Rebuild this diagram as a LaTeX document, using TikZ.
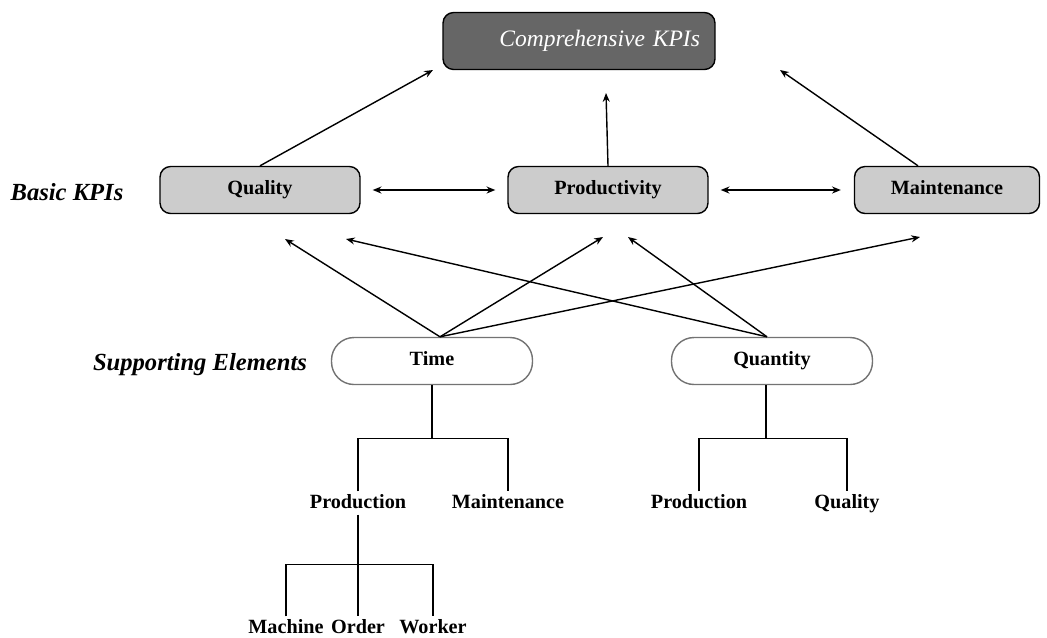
\documentclass[tikz,border=0pt]{standalone}
\usepackage{fontspec}
\setmainfont{Liberation Serif}
\usetikzlibrary{arrows.meta,calc}

\definecolor{kpigray}{HTML}{CCCCCC}
\definecolor{compgray}{HTML}{666666}

\tikzset{
  arr/.style={-{Stealth[length=5pt,width=4pt]}, line width=0.8pt},
  dblarr/.style={{Stealth[length=5pt,width=4pt]}-{Stealth[length=5pt,width=4pt]}, line width=0.8pt},
  kpibox/.style={draw, line width=0.8pt, fill=kpigray, rounded corners=6pt,
    minimum width=4cm, minimum height=0.94cm, text height=1.6ex, text depth=0.4ex,
    font=\fontsize{11.5}{13}\selectfont\bfseries},
  compbox/.style={draw, line width=0.8pt, fill=compgray, text=white, rounded corners=6pt,
    text width=4.84cm, align=right, inner xsep=0.3cm,
    minimum height=1.14cm, font=\fontsize{13.4}{15}\selectfont\itshape},
  pill/.style={draw=black!55, line width=0.8pt, rounded corners=0.45cm,
    minimum width=4.02cm, minimum height=0.94cm, text height=1.6ex, text depth=0.4ex,
    font=\fontsize{11.5}{13}\selectfont\bfseries},
  leaf/.style={inner sep=2pt, text height=1.6ex, text depth=0.3ex,
    font=\fontsize{11.5}{13}\selectfont\bfseries},
  lvl/.style={font=\fontsize{14}{16}\selectfont\bfseries\itshape},
  tree/.style={line width=0.8pt}
}

\begin{document}
\begin{tikzpicture}[x=0.02cm,y=-0.02cm]
\useasboundingbox (0,0) rectangle (1047,637);

%top level
\node[compbox] (comp) at (579,41) {Comprehensive KPIs};

%basic KPIs
\node[lvl] (basiclab) at (67,192) {Basic KPIs};
\node[kpibox] (qual) at (260,190) {Quality};
\node[kpibox] (prod) at (608,190) {Productivity};
\node[kpibox, minimum width=3.7cm] (maint) at (947,190) {Maintenance};

\coordinate (cq) at (433,70);
\coordinate (cp) at (606,93);
\coordinate (cm) at (780,70);

\draw[arr] (qual.north) -- (cq);
\draw[arr] (prod.north) -- (cp);
\draw[arr] ($(maint.north)+(-29,0)$) -- (cm);

\draw[dblarr, shorten <=0.24cm, shorten >=0.24cm] (qual.east) -- (prod.west);
\draw[dblarr, shorten <=0.24cm, shorten >=0.26cm] (prod.east) -- (maint.west);

%supporting elements
\node[lvl] (suplab) at (200,365) {Supporting Elements};
\node[pill] (time) at (432,361) {Time};
\node[pill] (quant) at (772,361) {Quantity};

\coordinate (tq) at (285,239);
\coordinate (tp) at (603,237);
\coordinate (tm) at (920,237);
\coordinate (qq) at (346,239);
\coordinate (qp) at (628,237);

\draw[arr] ($(time.north)+(8,0)$) -- (tq);
\draw[arr] ($(time.north)+(8,0)$) -- (tp);
\draw[arr] ($(time.north)+(8,0)$) -- (tm);
\draw[arr] ($(quant.north)+(-5,0)$) -- (qq);
\draw[arr] ($(quant.north)+(-5,0)$) -- (qp);

%time tree
\node[leaf] (tprod) at (358,503) {Production};
\node[leaf] (tmaint) at (508,503) {Maintenance};
\node[leaf] (mach) at (286,628) {Machine};
\node[leaf] (order) at (358,628) {Order};
\node[leaf] (work) at (433,628) {Worker};

\draw[tree] (time.south) -- ++(0,53) coordinate (tj);
\draw[tree] (tprod.north) |- (tj) -| (tmaint.north);
\draw[tree] (tprod.south) -- ++(0,50) coordinate (pj);
\draw[tree] (mach.north) |- (pj) -| (work.north);
\draw[tree] (pj) -- (order.north);

%quantity tree
\node[leaf] (qprod) at (699,503) {Production};
\node[leaf] (qqual) at (847,503) {Quality};

\draw[tree] ($(quant.south)+(-6,0)$) -- ++(0,53) coordinate (qj);
\draw[tree] (qprod.north) |- (qj) -| (qqual.north);

\end{tikzpicture}
\end{document}
